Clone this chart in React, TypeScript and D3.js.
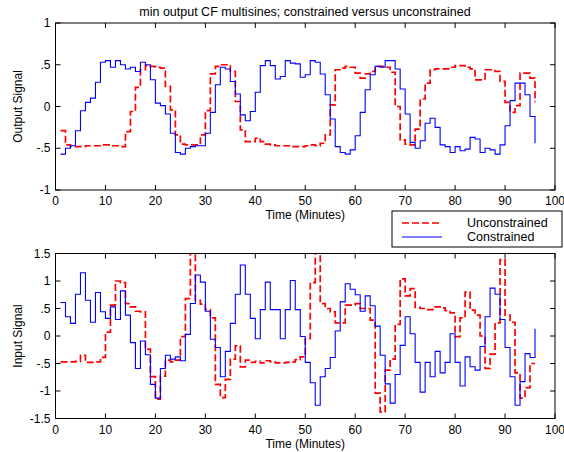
import React from "react";
import * as d3 from "d3";

// sample times (minutes)
const minutes = d3.range(1, 97);

// output signal, unconstrained (red dashed)
const outUnconstrained = [
  -0.29, -0.46, -0.48, -0.48, -0.48, -0.47, -0.47, -0.47, -0.46, -0.46,
  -0.47, -0.47, -0.48, -0.30, -0.06, 0.23, 0.44, 0.49, 0.48, 0.47,
  0.46, 0.24, -0.04, -0.34, -0.45, -0.46, -0.46, -0.46, -0.34, -0.05,
  0.39, 0.48, 0.50, 0.50, 0.42, 0.06, -0.28, -0.42, -0.42, -0.38,
  -0.42, -0.45, -0.46, -0.47, -0.47, -0.47, -0.48, -0.48, -0.48, -0.47,
  -0.46, -0.47, -0.44, -0.34, 0.02, 0.44, 0.46, 0.48, 0.47, 0.40,
  0.34, 0.39, 0.42, 0.48, 0.48, 0.47, 0.41, 0.00, -0.40, -0.45,
  -0.46, -0.27, 0.09, 0.28, 0.44, 0.45, 0.45, 0.45, 0.47, 0.49,
  0.49, 0.47, 0.45, 0.32, 0.32, 0.44, 0.44, 0.42, 0.30, 0.05,
  -0.07, 0.01, 0.40, 0.40, 0.34, 0.05,
];

// output signal, constrained (blue solid)
const outConstrained = [
  -0.57, -0.50, -0.47, -0.29, -0.05, 0.05, 0.10, 0.29, 0.53, 0.55,
  0.47, 0.55, 0.50, 0.45, 0.47, 0.42, 0.53, 0.50, 0.32, 0.04,
  0.01, -0.09, -0.32, -0.55, -0.57, -0.50, -0.48, -0.47, -0.47, -0.32,
  -0.07, 0.26, 0.47, 0.45, 0.30, 0.15, -0.10, -0.17, -0.06, 0.17,
  0.49, 0.55, 0.49, 0.33, 0.36, 0.55, 0.52, 0.51, 0.35, 0.38,
  0.55, 0.53, 0.39, 0.14, -0.15, -0.48, -0.55, -0.57, -0.52, -0.35,
  -0.07, 0.20, 0.38, 0.48, 0.47, 0.55, 0.55, 0.45, 0.21, -0.09,
  -0.43, -0.50, -0.41, -0.20, -0.14, -0.25, -0.46, -0.48, -0.55, -0.48,
  -0.53, -0.51, -0.37, -0.39, -0.55, -0.50, -0.52, -0.57, -0.46, -0.23,
  0.07, 0.28, 0.28, 0.14, -0.12, -0.44,
];

// input signal, unconstrained (red dashed) - spikes run off the top of the axes
const inUnconstrained = [
  -0.47, -0.47, -0.47, -0.46, -0.35, -0.48, -0.48, -0.47, -0.39, 0.07,
  0.56, 1.00, 0.97, 0.59, 0.53, 0.45, 0.44, -0.24, -0.74, -1.15,
  -0.73, -0.44, -0.47, -0.44, -0.01, 0.68, 1.70, 0.65, 0.58, 0.48,
  0.33, -0.88, -1.12, -0.79, -0.42, -0.18, -0.56, -0.44, -0.48, -0.46,
  -0.49, -0.45, -0.47, -0.49, -0.49, -0.48, -0.47, -0.43, -0.38, -0.05,
  0.97, 1.70, 0.59, 0.50, 0.44, 0.24, 0.24, 0.56, 0.56, 0.59,
  0.50, 0.50, 0.29, -1.04, -1.38, -0.62, -0.42, 0.21, 1.04, 0.73,
  0.86, 0.52, 0.50, 0.48, 0.48, 0.53, 0.51, 0.46, 0.42, -0.01,
  0.33, 0.80, 0.47, 0.38, 0.00, -0.59, -0.33, 0.24, 1.39, 0.38,
  0.25, -0.67, -1.13, -0.94, -0.50, -0.50,
];

// input signal, constrained (blue solid)
const inConstrained = [
  0.61, 0.35, 0.23, 0.76, 1.15, 0.65, 0.25, 0.79, 0.44, 0.32,
  0.53, 0.30, 0.82, 0.38, -0.12, -0.59, -0.09, -0.34, -0.88, -1.13,
  -0.59, -0.35, -0.42, -0.38, -0.45, 0.03, 0.59, 1.11, 0.98, 0.45,
  -0.06, -0.21, -0.74, -0.28, 0.23, 0.76, 1.29, 0.76, 0.32, -0.05,
  0.48, 0.98, 0.48, 0.48, -0.05, 0.48, 1.01, 0.48, -0.01, -0.48,
  -0.85, -1.26, -0.74, -0.59, -0.39, 0.09, 0.62, 0.95, 0.85, 0.75,
  0.45, 0.73, 0.55, 0.18, -0.35, -0.87, -1.22, -0.70, -0.17, 0.35,
  0.04, -0.48, -1.02, -0.48, -0.74, -0.28, -0.67, -0.48, 0.04, -0.48,
  -0.91, -0.38, -0.56, -0.62, -0.19, 0.35, 0.87, 0.76, 0.30, -0.21,
  -0.74, -1.26, -0.83, -0.32, -0.39, 0.13,
];

const xTicks = [0, 10, 20, 30, 40, 50, 60, 70, 80, 90, 100];
const topYTicks = [-1, -0.5, 0, 0.5, 1];
const topYLabels = ["-1", "-.5", "0", ".5", "1"];
const botYTicks = [-1.5, -1, -0.5, 0, 0.5, 1, 1.5];
const botYLabels = ["-1.5", "-1", "-.5", "0", ".5", "1", "1.5"];

const title = "min output CF multisines; constrained versus unconstrained";
const seriesNames = ["Unconstrained", "Constrained"];

const FONT = "'Liberation Sans', Arial, Helvetica, sans-serif";
const FS = 12;
const RED = "#ff0000";
const BLUE = "#0000ff";

const x = d3.scaleLinear().domain([0, 100]).range([55.5, 555]);

function Panel(props: {
  id: string;
  top: number;
  bottom: number;
  domain: [number, number];
  yTicks: number[];
  yLabels: string[];
  red: number[];
  blue: number[];
  ylabel: string;
}) {
  const { id, top, bottom, domain, yTicks, yLabels, red, blue, ylabel } = props;
  const y = d3.scaleLinear().domain(domain).range([bottom, top]);
  const line = d3
    .line<number>()
    .x((d, i) => x(minutes[i]))
    .y((d) => y(d))
    .curve(d3.curveStepAfter);
  const [x0, x1] = x.range();
  const tick = 5;

  return (
    <g>
      <defs>
        <clipPath id={id}>
          <rect x={x0} y={top} width={x1 - x0} height={bottom - top} />
        </clipPath>
      </defs>
      <g clipPath={`url(#${id})`}>
        <path d={line(red) || ""} fill="none" stroke={RED} strokeWidth={1.7} strokeDasharray="7,3" />
        <path d={line(blue) || ""} fill="none" stroke={BLUE} strokeWidth={1.1} />
      </g>
      {/* box */}
      <rect x={x0} y={top} width={x1 - x0} height={bottom - top} fill="none" stroke="#000" strokeWidth={1} />
      {/* ticks point inward on all four sides */}
      {xTicks.map((t) => (
        <g key={"x" + t}>
          <line x1={x(t)} x2={x(t)} y1={bottom} y2={bottom - tick} stroke="#000" />
          <line x1={x(t)} x2={x(t)} y1={top} y2={top + tick} stroke="#000" />
          <text x={x(t)} y={bottom + 15} textAnchor="middle" fontSize={FS} fontFamily={FONT}>
            {t}
          </text>
        </g>
      ))}
      {yTicks.map((t, i) => (
        <g key={"y" + t}>
          <line x1={x0} x2={x0 + tick} y1={y(t)} y2={y(t)} stroke="#000" />
          <line x1={x1} x2={x1 - tick} y1={y(t)} y2={y(t)} stroke="#000" />
          <text x={x0 - 5} y={y(t)} dy="0.35em" textAnchor="end" fontSize={FS} fontFamily={FONT}>
            {yLabels[i]}
          </text>
        </g>
      ))}
      <text x={(x0 + x1) / 2} y={bottom + 29} textAnchor="middle" fontSize={FS} fontFamily={FONT}>
        Time (Minutes)
      </text>
      <text
        transform={`translate(22,${(top + bottom) / 2}) rotate(-90)`}
        textAnchor="middle"
        fontSize={FS}
        fontFamily={FONT}
      >
        {ylabel}
      </text>
    </g>
  );
}

export default function App() {
  const lx = 392;
  const ly = 211;
  return (
    <div style={{ position: "absolute", left: 0, top: 0 }}>
      <svg width={564} height={452} style={{ display: "block", background: "#fff" }}>
        <text x={305} y={16} textAnchor="middle" fontSize={12.5} fontFamily={FONT}>
          {title}
        </text>
        <Panel
          id="clipTop"
          top={23}
          bottom={190}
          domain={[-1, 1]}
          yTicks={topYTicks}
          yLabels={topYLabels}
          red={outUnconstrained}
          blue={outConstrained}
          ylabel="Output Signal"
        />
        <Panel
          id="clipBottom"
          top={253.5}
          bottom={418.5}
          domain={[-1.5, 1.5]}
          yTicks={botYTicks}
          yLabels={botYLabels}
          red={inUnconstrained}
          blue={inConstrained}
          ylabel="Input Signal"
        />
        {/* legend */}
        <g>
          <rect x={lx} y={ly} width={170} height={36} fill="#fff" stroke="#000" strokeWidth={1} />
          <line x1={lx + 10} x2={lx + 50} y1={ly + 12} y2={ly + 12} stroke={RED} strokeWidth={1.5} strokeDasharray="7,3" />
          <line x1={lx + 10} x2={lx + 50} y1={ly + 26} y2={ly + 26} stroke={BLUE} strokeWidth={1.1} />
          <text x={lx + 75} y={ly + 12} dy="0.35em" fontSize={12.5} fontFamily={FONT}>
            {seriesNames[0]}
          </text>
          <text x={lx + 75} y={ly + 26} dy="0.35em" fontSize={12.5} fontFamily={FONT}>
            {seriesNames[1]}
          </text>
        </g>
      </svg>
    </div>
  );
}
